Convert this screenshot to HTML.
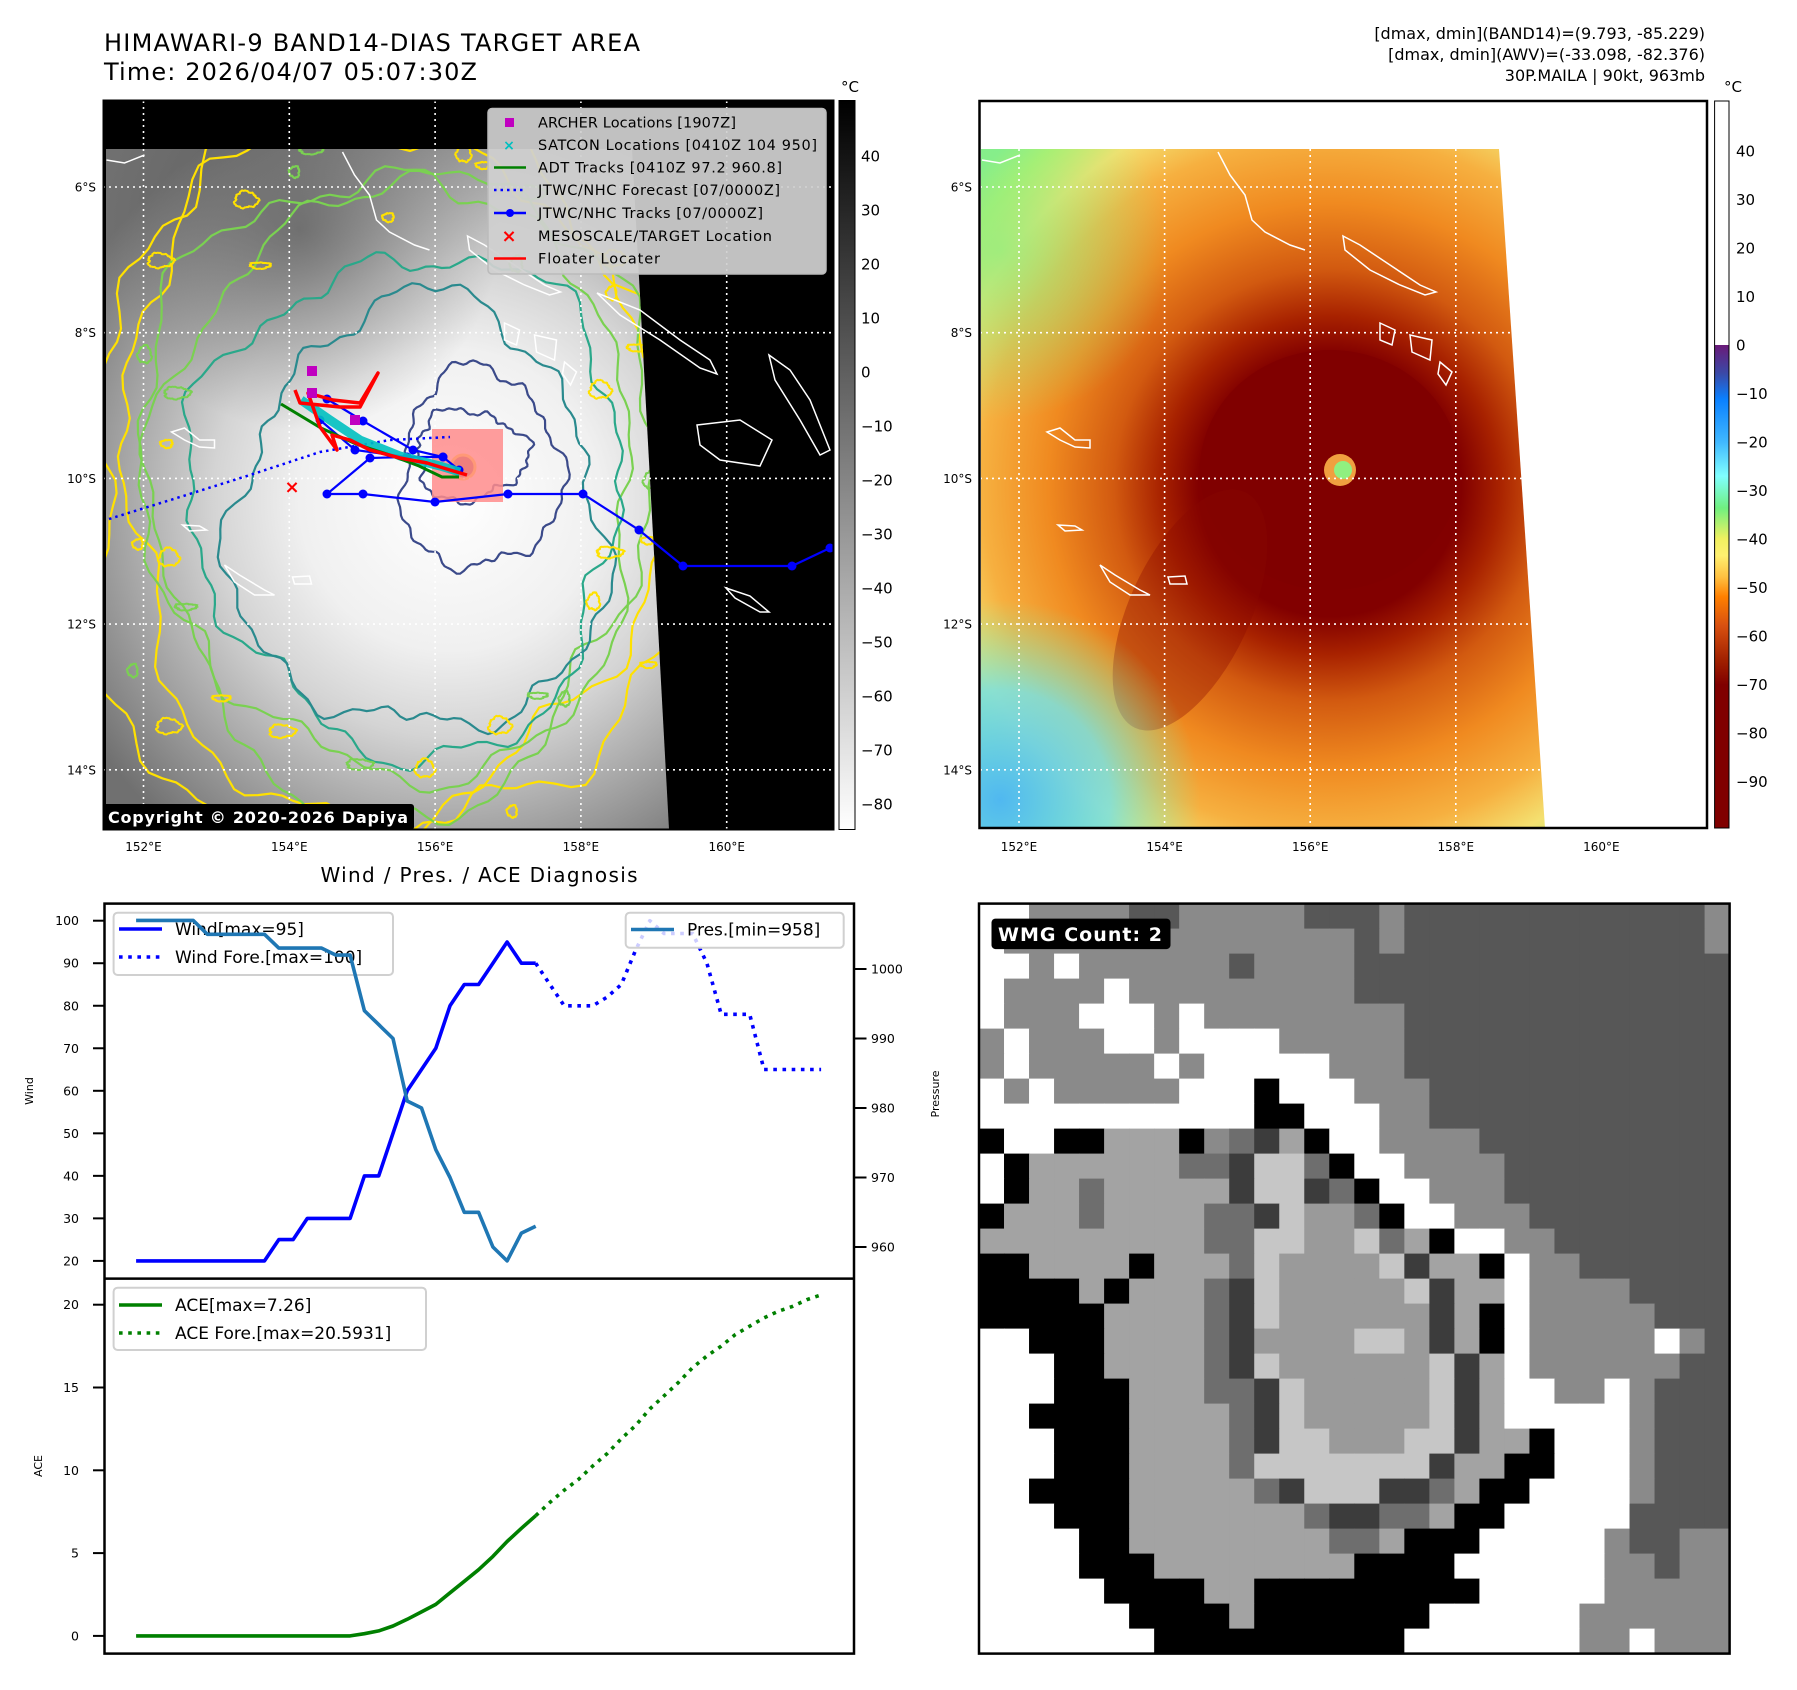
<!DOCTYPE html>
<html><head><meta charset="utf-8"><title>HIMAWARI-9 BAND14 Diagnosis</title>
<style>html,body{margin:0;padding:0;background:#fff}svg{display:block}text{font-family:"DejaVu Sans","Liberation Sans",sans-serif}</style>
</head><body>
<svg id="fig" xmlns="http://www.w3.org/2000/svg" width="1797" height="1690" viewBox="0 0 1797 1690">
<defs>
<radialGradient id="satGray" gradientUnits="userSpaceOnUse" cx="450" cy="500" r="430">
<stop offset="0" stop-color="#ffffff"/><stop offset="0.35" stop-color="#f0f0f0"/><stop offset="0.55" stop-color="#d4d4d4"/><stop offset="0.75" stop-color="#a8a8a8"/><stop offset="1" stop-color="#707070"/></radialGradient>
<radialGradient id="darkPatch" gradientUnits="userSpaceOnUse" cx="300" cy="230" r="200"><stop offset="0" stop-color="#555" stop-opacity="0.7"/><stop offset="1" stop-color="#555" stop-opacity="0"/></radialGradient>
<radialGradient id="irColor" gradientUnits="userSpaceOnUse" cx="1330" cy="485" r="470">
<stop offset="0" stop-color="#800000"/><stop offset="0.28" stop-color="#820000"/><stop offset="0.36" stop-color="#a82200"/><stop offset="0.46" stop-color="#d25a10"/><stop offset="0.6" stop-color="#f08a20"/><stop offset="0.74" stop-color="#f6b040"/><stop offset="0.84" stop-color="#f4e070"/><stop offset="0.93" stop-color="#b0f070"/><stop offset="1" stop-color="#80ee90"/></radialGradient>
<radialGradient id="bluePatch" gradientUnits="userSpaceOnUse" cx="1000" cy="800" r="200"><stop offset="0" stop-color="#50b8f0"/><stop offset="0.55" stop-color="#70e0e8" stop-opacity="0.8"/><stop offset="1" stop-color="#80f0a0" stop-opacity="0"/></radialGradient>
<radialGradient id="greenPatch" gradientUnits="userSpaceOnUse" cx="1000" cy="250" r="170"><stop offset="0" stop-color="#90ee80" stop-opacity="0.8"/><stop offset="1" stop-color="#90ee80" stop-opacity="0"/></radialGradient>
<linearGradient id="cbGray" x1="0" y1="0" x2="0" y2="1"><stop offset="0" stop-color="#000"/><stop offset="1" stop-color="#fff"/></linearGradient>
<linearGradient id="cbColor" x1="0" y1="0" x2="0" y2="1">
<stop offset="0" stop-color="#fff"/><stop offset="0.3355" stop-color="#fff"/><stop offset="0.3357" stop-color="#6a1a78"/><stop offset="0.375" stop-color="#3a4aa8"/><stop offset="0.41" stop-color="#0a80ff"/><stop offset="0.469" stop-color="#40b8ff"/><stop offset="0.516" stop-color="#80ffff"/><stop offset="0.56" stop-color="#70f080"/><stop offset="0.602" stop-color="#f0f060"/><stop offset="0.625" stop-color="#fff070"/><stop offset="0.655" stop-color="#ffc040"/><stop offset="0.682" stop-color="#ff8000"/><stop offset="0.722" stop-color="#d85010"/><stop offset="0.77" stop-color="#a02000"/><stop offset="0.803" stop-color="#800000"/><stop offset="1" stop-color="#800000"/></linearGradient>
<clipPath id="clipTL"><rect x="103.5" y="100.5" width="730" height="729"/></clipPath>
<clipPath id="clipSat"><polygon points="106,149 632,149 669,829 106,829"/></clipPath>
<clipPath id="clipTR"><polygon points="981,149 1499,149 1545,828 981,828"/></clipPath>
<clipPath id="clipBR"><rect x="979" y="903.6" width="750.6" height="750"/></clipPath>
</defs>

<text x="104" y="51" font-size="24" textLength="536">HIMAWARI-9 BAND14-DIAS TARGET AREA</text>
<text x="104" y="80" font-size="24" textLength="373">Time: 2026/04/07 05:07:30Z</text>
<text x="1705" y="39" font-size="16" text-anchor="end">[dmax, dmin](BAND14)=(9.793, -85.229)</text>
<text x="1705" y="60" font-size="16" text-anchor="end">[dmax, dmin](AWV)=(-33.098, -82.376)</text>
<text x="1705" y="81" font-size="16" text-anchor="end">30P.MAILA | 90kt, 963mb</text>

<g id="tlMap">
<rect x="103.5" y="100.5" width="730" height="729" fill="#000"/>
<g clip-path="url(#clipSat)">
<rect x="106" y="149" width="570" height="690" fill="url(#satGray)"/>
<rect x="106" y="149" width="570" height="690" fill="url(#darkPatch)"/>
<g id="contours"></g>
</g>
<g clip-path="url(#clipTL)">
<g id="tlGrid"></g>
<g id="tlCoast" fill="none" stroke="#fff" stroke-width="1.5"></g>
<rect x="432" y="429" width="71" height="73" fill="#ff8c8c" opacity="0.85"/>
<g id="tracks"></g>
</g>
<rect x="103.5" y="100.5" width="730" height="729" fill="none" stroke="#000" stroke-width="2"/>
<g>
<rect x="488" y="108.5" width="338" height="165.5" rx="4" fill="#d0d0d0" fill-opacity="0.93" stroke="#bbb" stroke-width="1.5"/>
<rect x="505" y="118" width="9" height="9" fill="#c000c0"/>
<text x="509" y="150" font-size="14" fill="#00c0c0" font-weight="bold" text-anchor="middle">×</text>
<line x1="494" y1="167.5" x2="526" y2="167.5" stroke="#008000" stroke-width="2.5"/>
<line x1="494" y1="190" x2="526" y2="190" stroke="#0000ff" stroke-width="2.5" stroke-dasharray="2.5 4"/>
<line x1="494" y1="213" x2="526" y2="213" stroke="#0000ff" stroke-width="2.5"/><circle cx="510" cy="213" r="4" fill="#0000ff"/>
<text x="509" y="242" font-size="18" fill="#ff0000" font-weight="bold" text-anchor="middle">×</text>
<line x1="494" y1="258.5" x2="526" y2="258.5" stroke="#ff0000" stroke-width="2.5"/>
<g font-size="14.5" fill="#000">
<text x="538" y="127.5" textLength="198">ARCHER Locations [1907Z]</text>
<text x="538" y="150" textLength="279">SATCON Locations [0410Z 104 950]</text>
<text x="538" y="172.5" textLength="244">ADT Tracks [0410Z 97.2 960.8]</text>
<text x="538" y="195" textLength="242">JTWC/NHC Forecast [07/0000Z]</text>
<text x="538" y="218" textLength="225">JTWC/NHC Tracks [07/0000Z]</text>
<text x="538" y="241" textLength="234">MESOSCALE/TARGET Location</text>
<text x="538" y="263.5" textLength="122">Floater Locater</text>
</g></g>
<rect x="103" y="804" width="311" height="26" rx="3" fill="#000"/>
<text x="108" y="823" font-size="16" font-weight="bold" fill="#fff" textLength="300">Copyright © 2020-2026 Dapiya</text>
</g>
<rect x="839" y="100.5" width="16" height="729" fill="url(#cbGray)" stroke="#000" stroke-width="1"/>
<text x="850" y="92" font-size="15" text-anchor="middle">°C</text>

<g>
<rect x="979.5" y="101" width="727.5" height="727" fill="#fff"/>
<g clip-path="url(#clipTR)">
<rect x="979" y="149" width="570" height="690" fill="url(#irColor)"/>
<ellipse cx="1330" cy="470" rx="130" ry="120" fill="#800000" opacity="0.9"/>
<ellipse cx="1190" cy="610" rx="60" ry="130" fill="#8a0800" opacity="0.35" transform="rotate(25 1190 610)"/>
<rect x="979" y="149" width="570" height="690" fill="url(#greenPatch)"/>
<rect x="979" y="560" width="300" height="280" fill="url(#bluePatch)"/>
<circle cx="1340" cy="470" r="16" fill="#f0a040"/>
<circle cx="1343" cy="470" r="9" fill="#90f080"/>
</g>
<g id="trGrid"></g>
<g id="trCoast" fill="none" stroke="#fff" stroke-width="1.5"></g>
<rect x="979.5" y="101" width="727.5" height="727" fill="none" stroke="#000" stroke-width="2.5"/>
</g>
<rect x="1714.6" y="101" width="14.4" height="727" fill="url(#cbColor)" stroke="#000" stroke-width="1"/>
<text x="1733" y="92" font-size="15" text-anchor="middle">°C</text>

<text x="479" y="882" font-size="20" text-anchor="middle" textLength="317">Wind / Pres. / ACE Diagnosis</text>
<g id="chart"></g>
<rect x="104.5" y="903.6" width="749.5" height="750" fill="none" stroke="#000" stroke-width="2.5"/>
<line x1="104.5" y1="1278.6" x2="854" y2="1278.6" stroke="#000" stroke-width="2.5"/>
<text transform="translate(33,1091) rotate(-90)" font-size="11" text-anchor="middle">Wind</text>
<text transform="translate(939,1094) rotate(-90)" font-size="11" text-anchor="middle">Pressure</text>
<text transform="translate(42,1466) rotate(-90)" font-size="11" text-anchor="middle">ACE</text>

<g id="wmg" clip-path="url(#clipBR)"></g>
<rect x="979" y="903.6" width="750.6" height="750" fill="none" stroke="#000" stroke-width="2.5"/>
<rect x="991.5" y="918.6" width="179" height="30.5" rx="4" fill="#000"/>
<text x="998" y="941" font-size="19" font-weight="bold" fill="#fff" textLength="164">WMG Count: 2</text>
</svg>
<script>
const windObs = [20,20,20,20,20,20,20,20,20,20,25,25,30,30,30,30,40,40,50,60,65,70,80,85,85,90,95,90,90];
const windFore = [90,85,80,80,80,82,85,93,100,97,97,97,90,78,78,78,65,65,65,65,65];
const presObs = [1007,1007,1007,1007,1007,1005,1005,1005,1005,1005,1003,1003,1003,1003,1002,1002,994,992,990,981,980,974,970,965,965,960,958,962,963];
const aceObs = [0,0,0,0,0,0,0,0,0,0,0,0,0,0,0,0,0.13,0.3,0.6,1.0,1.45,1.9,2.6,3.3,4.0,4.8,5.7,6.5,7.26];
const aceFore = [7.26,8.06,8.8,9.45,10.26,11.0,11.9,12.7,13.7,14.5,15.3,16.2,16.9,17.5,18.2,18.7,19.2,19.6,19.9,20.3,20.59];
const windTicks = [20,30,40,50,60,70,80,90,100];
const presTicks = [960,970,980,990,1000];
const aceTicks = [0,5,10,15,20];
const grayCbTicks = [40,30,20,10,0,-10,-20,-30,-40,-50,-60,-70,-80];
const colorCbTicks = [40,30,20,10,0,-10,-20,-30,-40,-50,-60,-70,-80,-90];
const latTicks = ['6°S','8°S','10°S','12°S','14°S'];
const lonTicks = ['152°E','154°E','156°E','158°E','160°E'];

const NS='http://www.w3.org/2000/svg';
function mk(tag, attrs, parent){const e=document.createElementNS(NS,tag);for(const k in attrs)e.setAttribute(k,attrs[k]);parent.appendChild(e);return e;}

const xIdx = i => 136.1 + i*14.27;
const yWind = v => 920.7 + (100-v)*4.2525;
const yPres = v => 969 + (1000-v)*6.95;
const yAce = v => 1635.9 - v*16.56;
const latY = i => 187 + i*145.7;
const lonXL = i => 143.5 + i*145.8;
const lonXR = i => 1019 + i*145.6;
const cbGrayY = v => 156 + (40-v)*5.4;
const cbColorY = v => 345 - v*4.85;

const chart=document.getElementById('chart');
function poly(vals, off, yf, stroke, dash, name){
  const pts = vals.map((v,i)=>xIdx(i+off).toFixed(1)+','+yf(v).toFixed(1)).join(' ');
  const p = mk('polyline',{points:pts,fill:'none',stroke:stroke,'stroke-width':3.6,'stroke-linejoin':'round'},chart);
  if(dash) p.setAttribute('stroke-dasharray',dash);
  
  
}
function ytick(y,label,left){
  if(left){mk('line',{x1:93,y1:y,x2:104.5,y2:y,stroke:'#000','stroke-width':2},chart);
    const t=mk('text',{x:79,y:y+4.5,'font-size':12.5,'text-anchor':'end'},chart);t.textContent=label;
    
    }
  else {mk('line',{x1:854,y1:y,x2:866.5,y2:y,stroke:'#000','stroke-width':2},chart);
    const t=mk('text',{x:871,y:y+4.5,'font-size':12.5},chart);t.textContent=label;
    
    }
}
function legendBox(x,y,w,h){mk('rect',{x:x,y:y,width:w,height:h,rx:4,fill:'#fff','fill-opacity':0.8,stroke:'#d0d0d0','stroke-width':2},chart);}
function legendEntry(y,color,dash,label,name,tx,lx){
  const l=mk('line',{x1:lx,y1:y,x2:lx+43,y2:y,stroke:color,'stroke-width':3.6},chart);
  if(dash) l.setAttribute('stroke-dasharray','3.6 5.6');
  const t=mk('text',{x:tx,y:y+6,'font-size':17},chart);t.textContent=label;
  
  
}
// wind axes
poly(windObs,0,yWind,'#0000ff',null,'wind-line');
poly(windFore,28,yWind,'#0000ff','3.6 5.6','wind-forecast-line');
windTicks.forEach(v=>ytick(yWind(v),String(v),true));
legendBox(113.6,912.7,279.4,62.3);
legendEntry(929,'#0000ff',false,'Wind[max=95]','legend-wind',175,119);
legendEntry(957,'#0000ff',true,'Wind Fore.[max=100]','legend-wind-forecast',175,119);
// pressure twin axis (drawn on top)
poly(presObs,0,yPres,'#1f77b4',null,'pressure-line');
presTicks.forEach(v=>ytick(yPres(v),String(v),false));
legendBox(625.7,912.7,218,35);
legendEntry(929.5,'#1f77b4',false,'Pres.[min=958]','legend-pressure',687,631);
// ace axes
poly(aceObs,0,yAce,'#008000',null,'ace-line');
poly(aceFore,28,yAce,'#008000','3.6 5.6','ace-forecast-line');
aceTicks.forEach(v=>ytick(yAce(v),String(v),true));
legendBox(113.6,1287.7,312.4,62.3);
legendEntry(1305,'#008000',false,'ACE[max=7.26]','legend-ace',175,119);
legendEntry(1333,'#008000',true,'ACE Fore.[max=20.5931]','legend-ace-forecast',175,119);

function grid(gid, xf, x0, x1){
  const g=document.getElementById(gid);
  latTicks.forEach((lab,i)=>{
    mk('line',{x1:x0,y1:latY(i),x2:x1,y2:latY(i),stroke:'#fff','stroke-width':1.6,'stroke-dasharray':'2 4'},g);
  });
  lonTicks.forEach((lab,i)=>{
    mk('line',{x1:xf(i),y1:101,x2:xf(i),y2:829,stroke:'#fff','stroke-width':1.6,'stroke-dasharray':'2 4'},g);
  });
}
grid('tlGrid',lonXL,103,834);
grid('trGrid',lonXR,980,1707);
const svg=document.getElementById('fig');
function mapLabels(xf, lx){
  latTicks.forEach((lab,i)=>{const t=mk('text',{x:lx,y:latY(i)+4.5,'font-size':12,'text-anchor':'end'},svg);t.textContent=lab;
    
    });
  lonTicks.forEach((lab,i)=>{const t=mk('text',{x:xf(i),y:851,'font-size':12,'text-anchor':'middle'},svg);t.textContent=lab;
    
    });
}
mapLabels(lonXL,96);
mapLabels(lonXR,972);
grayCbTicks.forEach(v=>{const t=mk('text',{x:861,y:cbGrayY(v)+5.5,'font-size':15},svg);t.textContent=(v<0?'\u2212'+(-v):String(v));
  
  });
colorCbTicks.forEach(v=>{const t=mk('text',{x:1736,y:cbColorY(v)+5.5,'font-size':15},svg);t.textContent=(v<0?'\u2212'+(-v):String(v));
  
  });

function blob(cx,cy,rx,ry,amp,seed){
  let d='';
  for(let k=0;k<=160;k++){const t=k/160*Math.PI*2;
    const m=1+amp*(0.5*Math.sin(3*t+seed)+0.3*Math.sin(7*t+2*seed)+0.2*Math.sin(13*t+3*seed)+0.12*Math.sin(29*t+seed*1.7));
    d+=(k?'L':'M')+(cx+rx*m*Math.cos(t)).toFixed(1)+','+(cy+ry*m*Math.sin(t)).toFixed(1);}
  return d+'Z';
}
const cg=document.getElementById('contours');
const rings=[[380,480,300,380,0.14,1,'#ffe100'],[390,470,275,345,0.12,2,'#ffe100'],[395,485,255,320,0.12,3,'#7ad151'],[400,480,240,300,0.1,5,'#7ad151'],[410,500,215,250,0.13,4,'#2aa88a'],[420,520,185,215,0.14,6,'#2a8a8e'],[480,470,80,100,0.15,7,'#3b4a8a'],[470,455,55,45,0.2,8,'#3b4a8a']];
rings.forEach(r=>{mk('path',{d:blob(r[0],r[1],r[2],r[3],r[4],r[5]),fill:'none',stroke:r[6],'stroke-width':2.2},cg);});
for(let k=0;k<40;k++){const a=k*2.39, rr=250+40*Math.sin(k*1.3);
  mk('path',{d:blob(390+rr*Math.cos(a)*1.05,480+rr*Math.sin(a)*1.25,9+4*Math.sin(k),6+3*Math.cos(k),0.2,k),fill:'none',stroke:k%3?'#ffe100':'#7ad151','stroke-width':2},cg);}
mk('circle',{cx:463,cy:467,r:12,fill:'#8a3a2a',stroke:'#ffe100','stroke-width':3},cg);

const tg=document.getElementById('tracks');
mk('polyline',{points:'109,519 180,497 250,475 320,452 390,440 450,437',fill:'none',stroke:'#0000ff','stroke-width':2.5,'stroke-dasharray':'2.5 4'},tg);
const bt1=[[830,548],[792,566],[683,566],[639,530],[583,494],[508,494],[435,502],[363,494],[327,494],[370,458],[407,457],[443,457]];
const bt2=[[327,399],[363,421],[413,450],[443,457],[459,470]];
const bt3=[[320,420],[355,450],[407,457]];
[bt1,bt2,bt3].forEach(b=>{mk('polyline',{points:b.map(p=>p.join(',')).join(' '),fill:'none',stroke:'#0000ff','stroke-width':2.2},tg);b.forEach(p=>mk('circle',{cx:p[0],cy:p[1],r:4.5,fill:'#0000ff'},tg));});
mk('polyline',{points:'301,400 330,420 360,440 400,456 440,466 460,472',fill:'none',stroke:'#00c0c0','stroke-width':9,'stroke-linejoin':'round',opacity:0.9},tg);
mk('polyline',{points:'281,404 321,428 356,444 390,455 419,466 442,477 459,477',fill:'none',stroke:'#008000','stroke-width':3},tg);
mk('polyline',{points:'295,390 300,403 340,407 360,407 378,373 360,403 333,400 308,393 320,427 337,450 332,435 350,440 370,450 400,458 427,463 450,470 467,475',fill:'none',stroke:'#ff0000','stroke-width':3.5,'stroke-linejoin':'round'},tg);
[[312,371],[312,393],[355,420]].forEach(p=>mk('rect',{x:p[0]-5,y:p[1]-5,width:10,height:10,fill:'#c000c0'},tg));
const tx=mk('text',{x:292,y:493,'font-size':18,'font-weight':'bold',fill:'#ff0000','text-anchor':'middle'},tg);tx.textContent='×';

const coasts=['M982,160 L1000,163 L1020,155','M1218,152 L1230,175 L1245,195 L1252,220 L1265,232 L1290,245 L1305,250',
'M1343,236 L1360,245 L1390,265 L1420,285 L1436,292 L1425,295 L1400,285 L1370,270 L1345,250Z',
'M1380,323 L1395,330 L1392,345 L1380,340Z','M1410,335 L1432,340 L1430,360 L1412,352Z','M1440,362 L1452,372 L1446,385 L1438,374Z',
'M1047,432 L1060,428 L1075,440 L1090,440 L1090,448 L1075,447 L1060,440Z','M1058,525 L1075,526 L1082,530 L1065,531Z',
'M1100,565 L1115,575 L1140,590 L1150,595 L1130,595 L1110,582Z','M1168,577 L1185,576 L1187,584 L1170,584Z'];
const extraTL=['M597,293 L640,310 L680,340 L710,360 L717,374 L700,368 L660,340 L620,315Z','M697,425 L740,420 L772,440 L760,466 L720,460 L700,445Z',
'M769,355 L790,370 L810,400 L830,450 L820,455 L800,420 L775,380Z','M726,588 L750,596 L769,612 L760,612 L735,598Z'];
const tc=document.getElementById('tlCoast'), rc=document.getElementById('trCoast');
coasts.forEach(d=>{mk('path',{d:d},rc);mk('path',{d:d,transform:'translate(-875.5,0)'},tc);});
extraTL.forEach(d=>mk('path',{d:d},tc));

const wmgRows=[
'WWMMMMDDMMMMMDDDMDDDDDDDDDDDDM',
'WMMMMMMMMMMMMMMDMDDDDDDDDDDDDM',
'WWMWMMMMMMDMMMMDDDDDDDDDDDDDDD',
'WMMMMWMMMMMMMMMDDDDDDDDDDDDDDD',
'WMMMWWWMWMMMMMMMMDDDDDDDDDDDDD',
'MWMMMWWMWWWWMMMMMDDDDDDDDDDDDD',
'MWMMMMMWMWWWWWMMMDDDDDDDDDDDDD',
'WMWMMMMMWWWBWWWMMMDDDDDDDDDDDD',
'WWWWWWWWWWWBBWWWMMDDDDDDDDDDDD',
'BWWBBLLLBMGKLBWWMMMMDDDDDDDDDD',
'WBLLLLLLGGKCCGBWWMMMMDDDDDDDDD',
'WBLLGLLLLLKCCKGBWWMMMDDDDDDDDD',
'BLLLGLLLLGGKCEEGBWWMMMDDDDDDDD',
'LLLLLLLLLGGCCEECGLBWWMMDDDDDDD',
'BBLLLLBLLLGCEEEECKLLBWMMDDDDDD',
'BBBBLBLLLGKCEEEEECKLLWMMMMDDDD',
'BBBBBLLLLGKCEEEEEEKLBWMMMMMDDD',
'WWBBBLLLLGKEEEECCEKLBWMMMMMWMD',
'WWWBBLLLLGKCEEEEEECKLWMMMMMMDD',
'WWWBBBLLLGGKCEEEEECKLWWMMWMDDD',
'WWBBBBLLLLGKCEEEEECKLWWWWWMDDD',
'WWWBBBLLLLGKCCEEECCKLLBWWWMDDD',
'WWWBBBLLLLGCCCCCCCKLLBBWWWMDDD',
'WWBBBBLLLLLGKCCCKKGLBBWWWWMDDD',
'WWWBBBLLLLLLLGKKGGLBBWWWWWDDDD',
'WWWWBBLLLLLLLLGGLBBBWWWWWMDDMM',
'WWWWBBBLLLLLLLLBBBBWWWWWWMMDMM',
'WWWWWBBBBLLBBBBBBBBBWWWWWMMMMM',
'WWWWWWBBBBLBBBBBBBWWWWWWMMMMMM',
'WWWWWWWBBBBBBBBBBWWWWWWWMMWMMM'];
const wmgColors={D:'#575757',M:'#8a8a8a',W:'#ffffff',B:'#000000',L:'#a3a3a3',G:'#6e6e6e',K:'#3c3c3c',C:'#c6c6c6',E:'#9a9a9a'};
const wg=document.getElementById('wmg');
const cw=750.6/30, ch=750/30;
wmgRows.forEach((row,r)=>{for(let c=0;c<row.length;c++){
  mk('rect',{x:(979+c*cw).toFixed(2),y:(903.6+r*ch).toFixed(2),width:(cw+0.6).toFixed(2),height:(ch+0.6).toFixed(2),fill:wmgColors[row[c]]},wg);}});
</script>
</body></html>
